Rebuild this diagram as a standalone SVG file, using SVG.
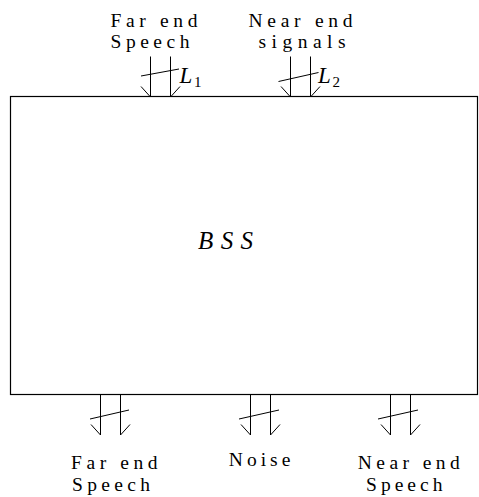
<svg xmlns="http://www.w3.org/2000/svg" width="479" height="497" viewBox="0 0 479 497">
<style>
.ln{stroke:#000;stroke-width:1;fill:none;stroke-linecap:butt}
.box{stroke:#000;stroke-width:1.2;fill:#fff}
.t{font-family:'Liberation Serif','DejaVu Serif',serif;font-size:19.5px;fill:#000}
.it{font-family:'Liberation Serif','DejaVu Serif',serif;font-style:italic;font-size:23px;fill:#000}
.big{font-family:'Liberation Serif','DejaVu Serif',serif;font-style:italic;font-size:25px;fill:#000}
.sub{font-family:'Liberation Serif','DejaVu Serif',serif;font-size:15px;fill:#000}
</style>
<defs>
<g id="busDown">
<line class="ln" x1="0" y1="0" x2="0" y2="40.5"/>
<line class="ln" x1="20" y1="0" x2="20" y2="40.5"/>
<line class="ln" x1="-9.5" y1="30" x2="0" y2="40.5"/>
<line class="ln" x1="29.5" y1="30" x2="20" y2="40.5"/>
</g>
</defs>
<g id="bss">
<rect class="box" x="10.5" y="96.5" width="467" height="298"/>
<text class="big" x="198" y="248.5" textLength="55" lengthAdjust="spacing">BSS</text>
</g>
<g id="far-end-in">
<text class="t" x="110.5" y="26.7" textLength="87" lengthAdjust="spacing">Far end</text>
<text class="t" x="110.5" y="48.3" textLength="79" lengthAdjust="spacing">Speech</text>
</g>
<g id="near-end-in">
<text class="t" x="248.5" y="26.7" textLength="104" lengthAdjust="spacing">Near end</text>
<text class="t" x="258.5" y="48.3" textLength="87" lengthAdjust="spacing">signals</text>
</g>
<g id="far-end-out">
<text class="t" x="71" y="469.3" textLength="86.5" lengthAdjust="spacing">Far end</text>
<text class="t" x="72" y="490.7" textLength="78" lengthAdjust="spacing">Speech</text>
</g>
<g id="noise-out">
<text class="t" x="228.8" y="466" textLength="61.5" lengthAdjust="spacing">Noise</text>
</g>
<g id="near-end-out">
<text class="t" x="357.8" y="469.3" textLength="102" lengthAdjust="spacing">Near end</text>
<text class="t" x="366" y="490.7" textLength="76.5" lengthAdjust="spacing">Speech</text>
</g>
<g id="connectors">
<g id="in-L1">
<use href="#busDown" x="150.5" y="56.5"/>
<line class="ln" x1="141" y1="76" x2="179" y2="69"/>
<text class="it" x="179.5" y="83">L</text>
<text class="sub" x="194" y="86.5">1</text>
</g>
<g id="in-L2">
<use href="#busDown" x="290.5" y="56.5"/>
<line class="ln" x1="278.5" y1="81.5" x2="318.5" y2="72.5"/>
<text class="it" x="318" y="83">L</text>
<text class="sub" x="332.5" y="86.5">2</text>
</g>
<g id="out-far">
<use href="#busDown" x="100.5" y="394.5"/>
<line class="ln" x1="90" y1="419" x2="129" y2="410"/>
</g>
<g id="out-noise">
<use href="#busDown" x="250.5" y="394.5"/>
<line class="ln" x1="239" y1="419" x2="279" y2="410"/>
</g>
<g id="out-near">
<use href="#busDown" x="390.5" y="394.5"/>
<line class="ln" x1="378" y1="419" x2="418" y2="410"/>
</g>
</g>
</svg>
